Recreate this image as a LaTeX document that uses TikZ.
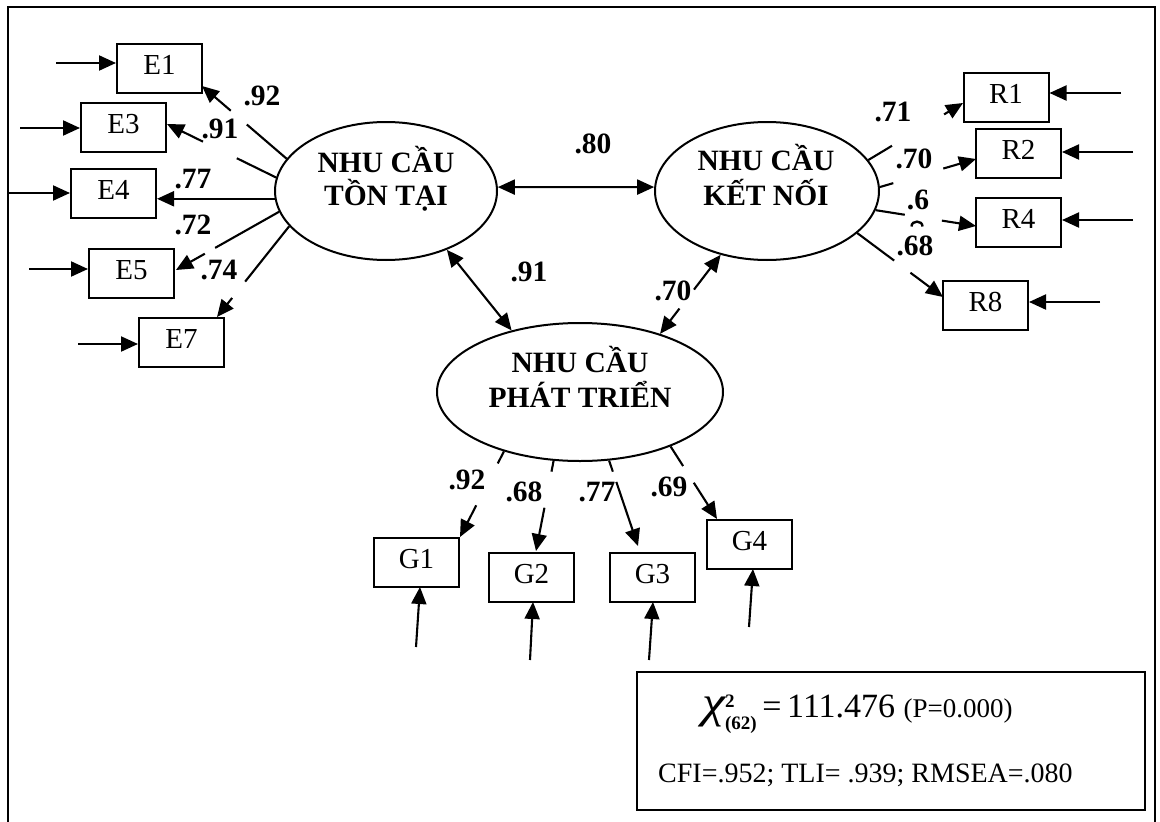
\documentclass[tikz,border=0pt]{standalone}
\usepackage{fontspec}
\usepackage{graphicx}
\setmainfont{Liberation Serif}
\usetikzlibrary{shapes.geometric,arrows.meta,calc}
\begin{document}
\begin{tikzpicture}[x=1pt,y=-1pt,
  box/.style={draw,line width=2pt,minimum width=85pt,minimum height=49pt,inner sep=0pt,font=\fontsize{29}{29}\selectfont,text height=19pt,text depth=7pt},
  lat/.style={draw,ellipse,line width=2pt,inner sep=0pt,minimum height=138pt},
  ltxt/.style={anchor=base,inner sep=0pt,font=\fontsize{29.5}{29.5}\selectfont\bfseries},
  lab/.style={inner sep=0pt,font=\fontsize{29.5}{29.5}\selectfont\bfseries},
  ln/.style={line width=2.1pt},
  ar/.style={line width=2.1pt,-{Triangle[length=17pt,width=15pt]}},
  dar/.style={line width=2.1pt,{Triangle[length=17pt,width=15pt]}-{Triangle[length=17pt,width=15pt]}},
]
\useasboundingbox (0,0) rectangle (1160,822);
% outer frame
\draw[line width=2.5pt] (8,840) -- (8,7) -- (1155,7) -- (1155,840);

% latent variables
\node[lat,minimum width=222pt] (T) at (386,191) {};
\node[lat,minimum width=224pt] (K) at (767,191) {};
\node[lat,minimum width=286pt] (P) at (580,392) {};
\node[ltxt] (T1) at (386,172) {NHU CẦU};
\node[ltxt] (T2) at (386,205) {TỒN TẠI};
\node[ltxt] (K1) at (766,170) {NHU CẦU};
\node[ltxt] (K2) at (766,205) {KẾT NỐI};
\node[ltxt] (P1) at (580,372) {NHU CẦU};
\node[ltxt] (P2) at (580,407) {PHÁT TRIỂN};

% indicator boxes
\node[box] (E1) at (159.5,68) {E1};
\node[box] (E3) at (123.5,127.5) {E3};
\node[box] (E4) at (113.5,193.5) {E4};
\node[box] (E5) at (131.5,273) {E5};
\node[box] (E7) at (181.5,342) {E7};
\node[box] (R1) at (1006,97.5) {R1};
\node[box] (R2) at (1018.5,153) {R2};
\node[box] (R4) at (1018.5,222.5) {R4};
\node[box] (R8) at (985.5,305) {R8};
\node[box] (G1) at (416.5,562.5) {G1};
\node[box] (G2) at (531.5,577) {G2};
\node[box] (G3) at (652.5,577) {G3};
\node[box] (G4) at (749.5,544.5) {G4};

% error arrows
\coordinate (e1s) at (56,63);
\coordinate (e3s) at (20,128);
\coordinate (e4s) at (8,193);
\coordinate (e5s) at (29,269);
\coordinate (e7s) at (78,344);
\draw[ar] (e1s) -- (e1s -| E1.west);
\draw[ar] (e3s) -- (e3s -| E3.west);
\draw[ar] (e4s) -- (e4s -| E4.west);
\draw[ar] (e5s) -- (e5s -| E5.west);
\draw[ar] (e7s) -- (e7s -| E7.west);
\coordinate (r1s) at (1121,93);
\coordinate (r2s) at (1133,152);
\coordinate (r4s) at (1133,220);
\coordinate (r8s) at (1100,302);
\draw[ar] (r1s) -- (r1s -| R1.east);
\draw[ar] (r2s) -- (r2s -| R2.east);
\draw[ar] (r4s) -- (r4s -| R4.east);
\draw[ar] (r8s) -- (r8s -| R8.east);
\coordinate (g1s) at (416,647);  \coordinate (g1e) at (420,587);
\coordinate (g2s) at (530,660);  \coordinate (g2e) at (533,602);
\coordinate (g3s) at (649,660);  \coordinate (g3e) at (653,602);
\coordinate (g4s) at (749,627);  \coordinate (g4e) at (753,569);
\draw[ar] (g1s) -- (g1e);
\draw[ar] (g2s) -- (g2e);
\draw[ar] (g3s) -- (g3e);
\draw[ar] (g4s) -- (g4e);

% loadings (tips)
\coordinate (e1t) at (202,86);
\coordinate (e3t) at (167,124);
\coordinate (e5t) at (176,270);
\coordinate (e7t) at (217,317);
\coordinate (r1t) at (963,103);
\coordinate (r2t) at (976,159);
\coordinate (r4t) at (976,226);
\coordinate (r8t) at (943,297);
\coordinate (g1t) at (460,537);
\coordinate (g2t) at (536,551);
\coordinate (g3t) at (638,546);
\coordinate (g4t) at (717,519);

\draw[ln] (T.162) -- ($(T.162)!0.47!(e1t)$);
\draw[ar] ($(T.162)!0.66!(e1t)$) -- (e1t);
\draw[ln] (T.173) -- ($(T.173)!0.36!(e3t)$);
\draw[ar] ($(T.173)!0.67!(e3t)$) -- (e3t);
\draw[ar] (T.184) -- (T.184 -| E4.east);
\draw[ln] (T.191) -- ($(T.191)!0.62!(e5t)$);
\draw[ar] ($(T.191)!0.72!(e5t)$) -- (e5t);
\draw[ln] (T.200) -- ($(T.200)!0.61!(e7t)$);
\draw[ar] ($(T.200)!0.79!(e7t)$) -- (e7t);

\draw[ln] (K.17) -- ($(K.17)!0.25!(r1t)$);
\draw[ar] ($(K.17)!0.80!(r1t)$) -- (r1t);
\draw[ln] (K.2) -- ($(K.2)!0.14!(r2t)$);
\draw[ar] ($(K.2)!0.66!(r2t)$) -- (r2t);
\draw[ln] (K.-10) -- ($(K.-10)!0.29!(r4t)$);
\draw[ar] ($(K.-10)!0.66!(r4t)$) -- (r4t);
\draw[ln] (K.-25) -- ($(K.-25)!0.43!(r8t)$);
\draw[ar] ($(K.-25)!0.62!(r8t)$) -- (r8t);

\draw[ln] (P.218) -- ($(P.218)!0.14!(g1t)$);
\draw[ar] ($(P.218)!0.63!(g1t)$) -- (g1t);
\draw[ln] (P.249) -- ($(P.249)!0.12!(g2t)$);
\draw[ar] ($(P.249)!0.52!(g2t)$) -- (g2t);
\draw[ln] (P.293) -- ($(P.293)!0.13!(g3t)$);
\draw[ar] ($(P.293)!0.25!(g3t)$) -- (g3t);
\draw[ln] (P.329) -- ($(P.329)!0.27!(g4t)$);
\draw[ar] ($(P.329)!0.50!(g4t)$) -- (g4t);

% correlations
\draw[dar] (T.2) -- (K.178);
\draw[dar] (T.-44.5) -- (P.138);
\draw[ar] ($(K.234)!0.44!(P.36)$) -- (K.234);
\draw[ar] ($(K.234)!0.68!(P.36)$) -- (P.36);

% labels
\node[lab] (l1) at (262,96) {.92};
\node[lab] (l2) at (220,129) {.91};
\node[lab] (l3) at (193,179) {.77};
\node[lab] (l4) at (193,225) {.72};
\node[lab] (l5) at (219,270) {.74};
\node[lab] (l6) at (893,112) {.71};
\node[lab] (l7) at (914,159) {.70};
\node[lab] (l8) at (918,200) {.6};
% clipped remainder of the wrapped label
\draw[line width=2.4pt] (911.5,226.5) .. controls (911.5,220) and (922.5,220) .. (922.5,226.5);
\node[lab] (l9) at (915,246) {.68};
\node[lab] (l10) at (593,144) {.80};
\node[lab] (l11) at (529,272) {.91};
\node[lab] (l12) at (673,291) {.70};
\node[lab] (l13) at (467,480) {.92};
\node[lab] (l14) at (524,492) {.68};
\node[lab] (l15) at (597,492) {.77};
\node[lab] (l16) at (669,487) {.69};

% fit statistics
\node[draw,line width=2pt,minimum width=508pt,minimum height=138pt,inner sep=0pt] (S) at (891,741) {};
\node[anchor=base west,inner sep=0pt] (S1) at (702,717) {\fontsize{40}{40}\selectfont\itshape\scalebox{1.3}[1.12]{χ}\upshape\bfseries\fontsize{19}{19}\selectfont\rlap{\raisebox{10pt}{2}}\raisebox{-12pt}{(62)}\mdseries\fontsize{34}{34}\selectfont\,=\,111.476 \fontsize{27}{27}\selectfont(P=0.000)};
\node[anchor=base west,inner sep=0pt,font=\fontsize{28}{28}\selectfont] (S2) at (658,782) {CFI=.952; TLI= .939; RMSEA=.080};
\end{tikzpicture}
\end{document}
